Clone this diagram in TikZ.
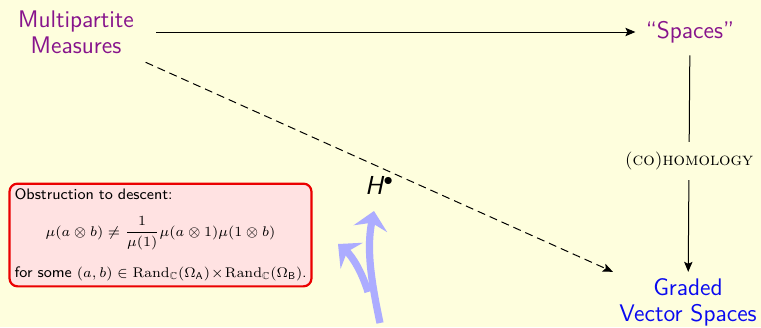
\documentclass[tikz,border=0pt]{standalone}
\usepackage{amsmath,amssymb}
\usetikzlibrary{arrows.meta}
\definecolor{bgc}{RGB}{254,254,221}
\definecolor{purp}{RGB}{135,20,140}
\definecolor{gblue}{RGB}{10,10,240}
\definecolor{boxfill}{RGB}{255,226,226}
\definecolor{boxline}{RGB}{235,0,0}
\definecolor{lav}{RGB}{172,172,255}
\newcommand{\mathsz}{\fontsize{7}{9}\selectfont}
\tikzset{
  lbl/.style={font=\sffamily\fontsize{12}{13}\selectfont, align=center, inner sep=3pt},
  arr/.style={-{Stealth[length=5pt,width=4.2pt,inset=1pt]}, line width=0.5pt},
  dasharr/.style={arr, dash pattern=on 4pt off 2.5pt},
  obox/.style={draw=boxline, fill=boxfill, line width=1.1pt, rounded corners=4pt,
    text width=146pt, align=left, inner sep=2.5pt, font=\sffamily\fontsize{7.6}{9}\selectfont},
  bigarr/.style={draw=lav, line width=3.6pt, -{Stealth[length=9pt,width=17pt,inset=3pt]}}
}
\begin{document}
\begin{tikzpicture}[x=0.5pt,y=-0.5pt]
\fill[bgc] (0,0) rectangle (761,327);
\useasboundingbox (0,0) rectangle (761,327);
\node[lbl, text=purp] (mm) at (76,32) {Multipartite\\Measures};
\node[lbl, text=purp] (sp) at (690,32) {``Spaces''};
\node[lbl, text=gblue] (gv) at (688,302) {Graded\\Vector Spaces};
\node[font=\sffamily\itshape\fontsize{13}{14}\selectfont] (h) at (379,185) {H\kern0.3pt\raisebox{4.3pt}{\fontsize{9}{9}\selectfont$\bullet$}};
\node[obox] (ob) at (160.5,235) {Obstruction to descent:\\[7.5pt]
\makebox[\linewidth]{\mathsz$\displaystyle \mu(a\otimes b)\neq\frac{1}{\mu(1)}\mu(a\otimes 1)\mu(1\otimes b)$}\\[7.5pt]
for some {\mathsz$(a,b)\in\mathrm{Rand}_{\mathbb{C}}(\Omega_{\mathsf{A}})\times\mathrm{Rand}_{\mathbb{C}}(\Omega_{\mathsf{B}})$.}};
\draw[arr, shorten <=8pt, shorten >=2pt] (mm) -- (sp);
\draw[arr, shorten <=3pt] (sp) -- node[fill=bgc, font=\fontsize{9}{10}\selectfont\scshape, inner xsep=2pt, inner ysep=5pt] {(co)homology} (gv);
\draw[dasharr, shorten <=3pt] (mm.south east) -- (gv.north west);
\coordinate (s1) at (380,323);
\coordinate (t1) at (374,211);
\coordinate (s2) at (368,292);
\coordinate (t2) at (338,244);
\draw[bigarr] (s1) .. controls (372,285) and (366,250) .. (t1);
\draw[bigarr] (s2) .. controls (362,272) and (352,256) .. (t2);
\end{tikzpicture}
\end{document}
